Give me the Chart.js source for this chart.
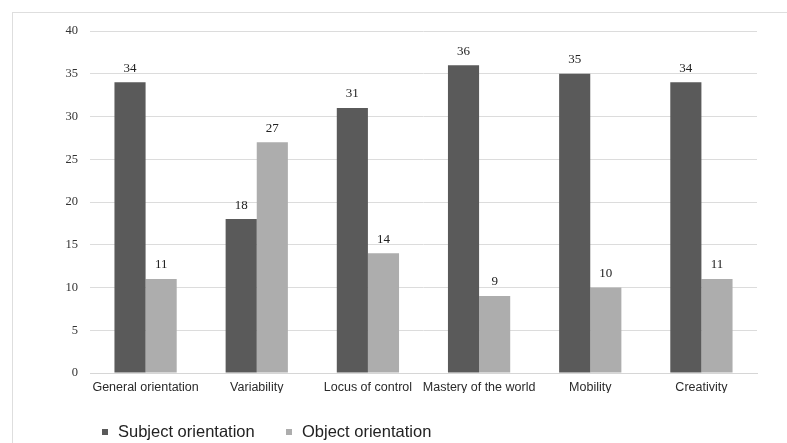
<!DOCTYPE html>
<html>
<head>
<meta charset="utf-8">
<script src="https://cdn.jsdelivr.net/npm/chart.js@4.4.1/dist/chart.umd.min.js"></script>
<style>
  html, body { margin: 0; padding: 0; background: #fff; }
  #wrap { width: 787px; height: 443px; position: relative; }
</style>
</head>
<body>
<div id="wrap"><canvas id="c" width="787" height="443"></canvas></div>
<script>
const categories = ["General orientation", "Variability", "Locus of control", "Mastery of the world", "Mobility", "Creativity"];
const subjectOrientation = [34, 18, 31, 36, 35, 34];
const objectOrientation = [11, 27, 14, 9, 10, 11];
const yTicks = [0, 5, 10, 15, 20, 25, 30, 35, 40];

const DARK = "#5a5a5a";
const LIGHT = "#adadad";

// light frame around the whole figure
const framePlugin = {
  id: "frame",
  beforeDraw(chart) {
    const ctx = chart.ctx;
    ctx.save();
    ctx.strokeStyle = "#dedede";
    ctx.lineWidth = 1;
    ctx.strokeRect(12.5, 12.5, 900, 600);
    ctx.restore();
  }
};

// value labels above each bar
const valueLabels = {
  id: "valueLabels",
  afterDatasetsDraw(chart) {
    const ctx = chart.ctx;
    ctx.save();
    ctx.font = "13px 'Liberation Serif', 'Times New Roman', serif";
    ctx.fillStyle = "#222";
    ctx.textAlign = "center";
    ctx.textBaseline = "middle";
    chart.data.datasets.forEach((ds, i) => {
      chart.getDatasetMeta(i).data.forEach((bar, j) => {
        ctx.fillText(String(ds.data[j]), bar.x, bar.y - 14);
      });
    });
    ctx.restore();
  }
};

// legend row below the axis
const bottomLegend = {
  id: "bottomLegend",
  afterDraw(chart) {
    const ctx = chart.ctx;
    const y = 432;
    const starts = [102, 286];
    ctx.save();
    ctx.font = "16.5px 'Liberation Sans', Arial, sans-serif";
    ctx.textBaseline = "middle";
    ctx.textAlign = "left";
    chart.data.datasets.forEach((ds, i) => {
      const x = starts[i];
      ctx.fillStyle = ds.backgroundColor;
      ctx.fillRect(x, y - 3, 6, 6);
      ctx.fillStyle = "#222";
      ctx.fillText(ds.label, x + 16, y);
    });
    ctx.restore();
  }
};

new Chart(document.getElementById("c"), {
  type: "bar",
  data: {
    labels: categories,
    datasets: [
      { label: "Subject orientation", data: subjectOrientation, backgroundColor: DARK },
      { label: "Object orientation", data: objectOrientation, backgroundColor: LIGHT }
    ]
  },
  options: {
    responsive: false,
    animation: false,
    devicePixelRatio: 1,
    layout: { padding: { left: 20, right: 30, top: 31, bottom: 50 } },
    datasets: { bar: { categoryPercentage: 0.56, barPercentage: 1.0 } },
    plugins: { legend: { display: false }, tooltip: { enabled: false } },
    scales: {
      x: {
        grid: { display: false, drawTicks: false },
        border: { display: true, color: "#d6d6d6" },
        ticks: {
          color: "#2a2a2a",
          font: { family: "'Liberation Sans', Arial, sans-serif", size: 12.5 },
          padding: 7,
          maxRotation: 0,
          autoSkip: false
        },
        afterFit(scale) { scale.height = 20; }
      },
      y: {
        min: 0,
        max: 40,
        afterBuildTicks(scale) { scale.ticks = yTicks.map(v => ({ value: v })); },
        grid: { color: "#dcdcdc", drawTicks: false },
        border: { display: false },
        ticks: {
          color: "#333",
          font: { family: "'Liberation Serif', 'Times New Roman', serif", size: 12.5 },
          padding: 12
        },
        afterFit(scale) { scale.width = 70; }
      }
    }
  },
  plugins: [framePlugin, valueLabels, bottomLegend]
});
</script>
</body>
</html>
